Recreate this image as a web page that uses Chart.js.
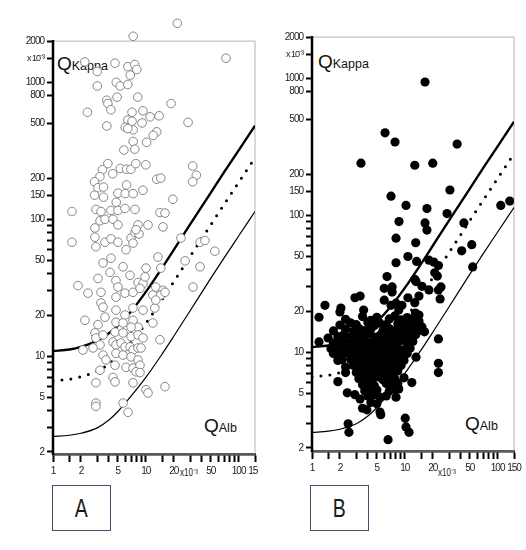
<!DOCTYPE html>
<html lang="en">
<head>
<meta charset="UTF-8">
<title>QKappa vs QAlb</title>
<script src="https://cdn.jsdelivr.net/npm/chart.js@4"></script>
<style>
  body { margin: 0; background: #fff; width: 526px; height: 550px; position: relative; overflow: hidden;
         font-family: 'Liberation Sans', Arial, sans-serif; color: #111; }
  .panel { position: absolute; top: 0; height: 480px; overflow: hidden; z-index: 1; }
  .q { position: absolute; font-size: 19px; line-height: 20px; white-space: nowrap; z-index: 0; }
  .q span { font-size: 12.5px; }
  .unit { position: absolute; font-size: 10px; line-height: 10px; color: #222; white-space: nowrap;
          transform: scaleX(0.8); transform-origin: left center; }
  .box { position: absolute; top: 485px; width: 57px; height: 44px; border: 1.5px solid #3f5269;
         font-size: 25px; line-height: 44px; text-align: center; color: #1a1a1a; }
  .box span { display: inline-block; transform: scaleX(0.78); }
</style>
</head>
<body>
<div class="q" style="left:57px; top:54px">Q<span>Kappa</span></div>
<div class="q" style="left:204px; top:416px">Q<span>Alb</span></div>
<div class="q" style="left:318px; top:52px">Q<span>Kappa</span></div>
<div class="q" style="left:465px; top:414px">Q<span>Alb</span></div>

<div class="panel" style="left:0; width:258px"><canvas id="chartA" width="270" height="480"></canvas></div>
<div class="panel" style="left:258px; width:268px"><canvas id="chartB" width="268" height="480"></canvas></div>

<div class="unit" style="left:180px; top:468px">x10⁻³</div>
<div class="unit" style="left:438px; top:468px">x10⁻³</div>

<div class="box" style="left:52px"><span>A</span></div>
<div class="box" style="left:310px"><span>B</span></div>

<script>
// axis ticks (QAlb and QKappa, both x 10^-3)
const xTickValues = [1, 1.5, 2, 3, 4, 5, 6, 7, 8, 9, 10, 15, 20, 30, 40, 50, 60, 70, 80, 90, 100, 150];
const xTickLabels = ['1', '', '2', '', '', '5', '', '', '', '', '10', '', '20', '', '', '50', '', '', '', '', '100', '150'];
const yTickValues = [2, 3, 4, 5, 6, 7, 8, 9, 10, 20, 30, 40, 50, 60, 70, 80, 90, 100, 150, 200, 500, 800, 1000, 1500, 2000];
const yTickLabels = ['2', '', '', '5', '', '', '', '', '10', '20', '', '', '50', '', '', '', '', '100', '150', '200', '500', '800', '1000', 'x 10⁻³', '2000'];
const yFrameTop = 2000;

// reference curves
const curveAlb   = [1, 1.5, 2, 3, 4, 5, 7, 10, 15, 20, 30, 50, 70, 100, 150];
const upperLimit = [10.9, 11.2, 11.7, 13.0, 14.7, 16.7, 21.4, 29.5, 44.3, 59.9, 91.7, 156, 222, 319, 482];
const meanLine   = [6.6, 6.8, 7.1, 7.8, 8.8, 10.0, 12.7, 17.4, 26.0, 35.0, 53.5, 91, 129, 186, 281];
const lowerLimit = [2.6, 2.65, 2.74, 3.0, 3.42, 3.95, 5.15, 7.0, 10.4, 14.0, 21.5, 37, 52.5, 75.5, 114];

// panel A: [QAlb, QKappa]
const pointsA = [
  [21.8,2700],[7.3,2170],[73,1500],[2.2,1410],[3.0,1200],[4.65,1380],[6.4,1300],[7.6,1350],[8.0,1240],[6.8,1130],
  [4.8,1000],[5.3,940],[6.4,965],[3.0,940],[3.8,740],[3.9,700],[4.2,630],[4.9,780],[8.2,780],[2.35,605],
  [7.1,605],[9.3,620],[11.1,560],[13.9,570],[18.7,700],[28.5,510],[6.4,530],[7.1,520],[9.1,505],[3.8,480],
  [6.0,470],[7.3,450],[6.4,460],[13.1,435],[12,410],[10.2,365],[7.3,370],[5.8,320],[7.6,325],[3.9,255],
  [5.3,235],[6.2,232],[6.9,232],[7.8,255],[10,250],[3.4,230],[3.2,205],[4.4,215],[13.1,196],[14.5,200],
  [32,245],[35,210],[32,188],[2.8,188],[3.05,170],[5.0,155],[6.0,154],[7.3,154],[9.3,163],[6.2,178],
  [3.5,145],[2.8,150],[19.6,140],[3.5,172],[4.8,133],
  [1.6,114],[2.9,118],[3.29,114],[4.21,116],[5.01,116],[5.97,120],[7.65,118],[14.2,112],[16.1,111],[3.21,97.5],
  [3.63,100],[4.43,100],[5.01,91],[2.83,86.5],[8.24,91],[10.56,91],[15.3,88],[1.6,68],[2.83,74],[2.9,63],
  [3.63,68],[4.21,72],[5.01,68],[6.12,60],[6.93,73],[7.65,80],[8.45,78],[7.28,67],[7.84,84],[13.5,53],
  [14.5,44],[23.9,73],[4.21,52],[3.46,48],[5.68,45],[6.76,39],[4.11,41],[3.05,37],[1.86,32.8],[2.38,28.9],
  [4.77,35.7],[5.01,32],[5.97,28.9],[7.28,29.3],[8.24,34.5],[9.33,34],[10.05,44],[9.8,38],[8.66,31.3],[11.9,28],
  [12.8,32],[32.2,32],[38.4,45],[38.4,68],[26.5,49.7],[43.3,70],[55.4,58.5],[15.3,30.3],
  [3.29,29.3],[4.77,27],[14.5,28],[16.1,29.3],[3.29,24.5],[3.46,22.8],[4.77,21.7],[3.63,19.3],[5.97,20],[7.28,22.5],
  [9.33,21.7],[12.5,22.5],[12.8,25.7],[2.21,18.3],[3.05,17],[4.77,17.7],[5.68,17.5],[7.28,18.3],[8.24,16.3],[11.9,17.5],
  [6.93,16.3],[2.83,14.8],[2.9,13.6],[3.46,14.3],[4.66,15],[5.68,14.8],[6.93,13.9],[8.24,14.3],[9.33,13.6],[3.21,12.1],
  [4.43,12.7],[4.77,12.1],[5.4,12.5],[5.97,11.7],[6.76,11.7],[7.28,11.1],[8.24,11.5],[8.88,11.5],[14.2,13.2],[2.10,11.1],
  [2.70,11.5],[3.46,10.2],[4.77,10.5],[5.68,10.2],[6.93,9.9],[8.24,9.4],[3.72,9.4],[4.66,8.6],[6.12,8.3],[7.28,8.2],
  [8.66,8.6],[7.84,7.7],[8.66,7.6],[3.21,7.9],[2.9,6.4],[4.43,7.0],[4.66,6.5],[7.28,6.4],[2.9,4.55],[2.9,4.3],
  [5.68,4.55],[6.43,3.9],[10.05,5.7],[10.56,5.4],[16.1,6.0]
];

// panel B: [QAlb, QKappa]
const pointsB = [
  [16.5,940],[6.12,400],[7.84,343],[36.6,331],[3.37,240],[12.8,232],[20,240],[30.6,153],[7.1,138],[10.3,118],
  [17.3,112],[28.5,103],[108,118],[135,127],[8.66,90],[16.5,88],[43.3,88],[17.3,78],[8.04,68],[13.1,63],
  [52.6,61],[41,55],[8.04,45],[10.8,50],[13.4,46],[18.2,47],[20.5,45.5],[23,43],[21,38],[22.4,36],
  [53.8,42],[6.43,35.7],[12.8,34],[13.2,32.8],[15.3,30.3],[18.2,28.5],[24.5,30],[23,28.5],[24,24.5],[14.2,25.7],
  [12.8,23],[6,29.3],[7.3,30],[6,24],[7.3,27.5],[2.9,25],[3.3,25.7],[3.6,20.3],[2.05,21],[2.0,19.7],
  [1.38,22],[1.19,18],[1.19,11.9],[1.49,12.7],[1.86,11.1],[1.9,9.2],[2.1,8.8],[2.3,7.1],[1.9,6.1],[2.4,5.05],
  [2.9,4.9],[3.3,4.55],[3.5,3.9],[3.9,3.8],[5.4,3.66],[5.5,3.5],[2.45,3.0],[2.5,2.6],[6.6,2.3],[10.1,3.3],
  [10.3,2.85],[11.1,2.6],[11.9,6.0],[13.2,9.2],[23,12.5],[23,8.3],[23,7.1],[15.3,15.3],[16.3,14.1],[13,19.3],
  [14.2,18.7],[8.04,4.7],[8.6,5.4],[8.04,22.8],[8.6,20.3],[7.1,22],[9.3,22],[10.8,25],
  [2.3,17.4],[3.5,18.2],[4.3,17.1],[5.0,18.0],[6.8,17.5],[7.8,18.4],[9.1,17.2],[10.6,17.9],[12.2,17.3],[14.2,16.9],
  [2.0,15.8],[2.6,16.4],[3.0,15.9],[4.0,16.5],[4.7,15.7],[5.4,16.3],[6.3,15.9],[8.4,16.2],[9.8,15.6],[11.4,16.4],[13.1,15.8],
  [1.7,14.3],[2.3,14.8],[2.8,14.2],[3.2,14.9],[3.7,14.4],[4.3,14.7],[5.8,14.3],[6.8,14.9],[7.8,14.4],[9.1,14.8],[10.6,14.2],[12.2,14.6],[14.2,14.4],
  [1.9,13.0],[2.2,13.4],[2.6,12.9],[3.0,13.3],[3.5,13.0],[4.0,13.5],[4.7,12.9],[5.4,13.3],[6.3,13.1],[7.3,13.5],[8.4,12.9],[9.8,13.3],[11.4,13.0],[13.1,13.4],
  [1.7,11.7],[2.0,12.1],[2.3,11.6],[2.8,12.0],[3.2,11.8],[3.7,12.2],[4.3,11.6],[5.0,12.0],[5.8,11.7],[6.8,12.1],[7.8,11.8],[9.1,12.2],[10.6,11.7],[12.2,12.0],
  [1.6,10.6],[1.9,10.9],[2.2,10.5],[2.6,10.8],[3.0,10.4],[3.5,10.9],[4.0,10.6],[4.7,10.8],[5.4,10.5],[6.3,10.9],[7.3,10.6],[8.4,10.8],[9.8,10.4],[11.4,10.7],
  [1.7,9.8],[2.0,9.5],[2.3,9.9],[2.8,9.6],[3.2,9.8],[3.7,9.5],[4.3,9.9],[5.0,9.6],[5.8,9.8],[6.8,9.5],[7.8,9.9],[9.1,9.6],[10.6,9.8],
  [1.9,8.7],[2.6,8.9],[3.0,8.6],[3.5,8.9],[4.0,8.7],[4.7,8.9],[5.4,8.6],[6.3,8.8],[7.3,8.6],[8.4,8.9],[9.8,8.7],
  [2.3,7.8],[2.8,8.0],[3.2,7.8],[3.7,8.1],[4.3,7.8],[5.0,8.0],[5.8,7.7],[6.8,8.0],[7.8,7.8],[9.1,8.0],
  [3.0,7.1],[3.5,7.3],[4.0,7.0],[4.7,7.3],[5.4,7.1],[6.3,7.2],[7.3,7.0],[8.4,7.3],
  [3.2,6.4],[3.7,6.6],[4.3,6.4],[5.0,6.6],[5.8,6.3],[6.8,6.6],[7.8,6.4],[9.8,6.5],
  [3.5,5.8],[4.0,5.9],[4.7,5.7],[6.3,5.9],[7.3,5.8],[8.4,5.9],
  [3.7,5.2],[4.3,5.4],[5.0,5.3],[6.8,5.2],[7.8,5.4],
  [4.0,4.8],[4.7,4.9],[5.4,4.7],[6.3,4.8],[4.3,4.3],[5.0,4.2]
];

const tickFont = "'Liberation Sans Narrow', 'Liberation Sans', sans-serif";

// grey frame from the 2000 line, and the black QKappa axis line below it
const framePlugin = {
  id: 'frame',
  beforeDraw(chart) {
    // narrow tick labels like the original
    chart.ctx.letterSpacing = '-1px';
  },
  beforeDatasetsDraw(chart) {
    const a = chart.chartArea, ctx = chart.ctx;
    const top = chart.scales.y.getPixelForValue(yFrameTop);
    ctx.save();
    ctx.strokeStyle = '#b4b4b4';
    ctx.lineWidth = 1;
    ctx.strokeRect(a.left, top, a.right - a.left, a.bottom - top);
    ctx.strokeStyle = '#000';
    ctx.lineWidth = 2.5;
    ctx.beginPath();
    ctx.moveTo(a.left, top - 1);
    ctx.lineTo(a.left, a.bottom + 1);
    ctx.stroke();
    ctx.restore();
  }
};

function curve(vals) {
  return curveAlb.map((x, i) => ({ x: x, y: vals[i] }));
}

function buildPanel(id, points, dots, pad, yWidth, yMin) {
  return new Chart(document.getElementById(id), {
    type: 'scatter',
    data: {
      datasets: [
        Object.assign({ data: points.map(p => ({ x: p[0], y: p[1] })) }, dots),
        { data: curve(upperLimit), showLine: true, borderColor: '#000', borderWidth: 2.4,
          pointRadius: 0, cubicInterpolationMode: 'monotone' },
        { data: curve(meanLine), showLine: true, borderColor: '#000', borderWidth: 3,
          borderDash: [0, 9], borderCapStyle: 'round', pointRadius: 0, cubicInterpolationMode: 'monotone' },
        { data: curve(lowerLimit), showLine: true, borderColor: '#000', borderWidth: 1.2,
          pointRadius: 0, cubicInterpolationMode: 'monotone' }
      ]
    },
    options: {
      responsive: false,
      animation: false,
      events: [],
      layout: { padding: pad },
      plugins: { legend: { display: false }, tooltip: { enabled: false } },
      scales: {
        x: {
          type: 'logarithmic', min: 1, max: 150, bounds: 'data',
          afterBuildTicks: s => { s.ticks = xTickValues.map(v => ({ value: v })); },
          afterFit: s => { s.height = 26; },
          grid: { drawOnChartArea: false, tickLength: 8, tickWidth: 2, tickColor: '#000' },
          border: { display: true, width: 2.5, color: '#000' },
          ticks: { autoSkip: false, maxRotation: 0, padding: 3, color: '#222',
                   font: { family: tickFont, size: 10 },
                   callback: (v, i) => xTickLabels[i] }
        },
        y: {
          type: 'logarithmic', min: yMin, max: 3000, bounds: 'data',
          afterBuildTicks: s => { s.ticks = yTickValues.map(v => ({ value: v })); },
          afterFit: s => { s.width = yWidth; },
          grid: { drawOnChartArea: false, tickLength: 6, tickWidth: 2, tickColor: '#000' },
          border: { display: false },
          ticks: { autoSkip: false, padding: 3, color: '#222',
                   font: c => ({ family: tickFont, size: c.tick && c.tick.value === 1500 ? 9 : 10 }),
                   callback: (v, i) => yTickLabels[i] }
        }
      }
    },
    plugins: [framePlugin]
  });
}

buildPanel('chartA', pointsA,
  { pointRadius: 4.3, pointBackgroundColor: '#fff', pointBorderColor: '#858585', pointBorderWidth: 1 },
  { left: 0, top: 17, right: 15, bottom: 0 }, 53, 1.933);

buildPanel('chartB', pointsB,
  { pointRadius: 4.6, pointBackgroundColor: '#000', pointBorderColor: '#000', pointBorderWidth: 0 },
  { left: 0, top: 13, right: 12, bottom: 3 }, 54, 1.90);
</script>
</body>
</html>
